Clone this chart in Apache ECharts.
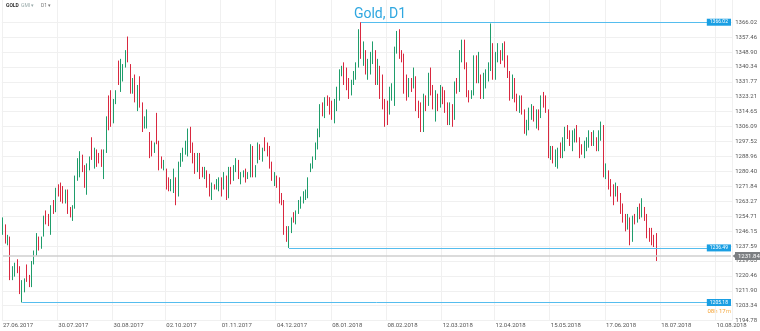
<!DOCTYPE html>
<html><head><meta charset="utf-8">
<script src="https://cdn.jsdelivr.net/npm/echarts@6/dist/echarts.min.js"></script>
<style>html,body{margin:0;padding:0;background:#fff}#c{width:760px;height:331px}</style>
</head><body><div id="c"></div>
<script>
// ---- data ----
const opens = [1246,1249,1240,1242,1221,1224,1227,1224,1212,1213,1225,1219,1216,1228,1234,1242,1238,1244,1256,1254,
1249,1260,1258,1270,1271,1268,1264,1268,1259,1256,1260,1276,1284,1289,1283,1268,1282,1292,1284,1292,
1290,1291,1285,1292,1316,1322,1310,1321,1340,1326,1334,1342,1349,1340,1327,1334,1316,1333,1318,1307,
1306,1301,1294,1293,1304,1296,1287,1283,1280,1275,1271,1268,1275,1268,1284,1288,1292,1293,1303,1295,
1290,1281,1290,1282,1277,1280,1277,1267,1272,1271,1270,1276,1271,1277,1267,1282,1276,1281,1285,1275,
1278,1280,1277,1278,1294,1279,1286,1293,1287,1298,1296,1294,1285,1274,1276,1276,1266,1263,1247,1240,
1246,1255,1252,1257,1260,1263,1265,1266,1281,1283,1289,1295,1302,1318,1313,1322,1321,1320,1310,1316,
1322,1336,1340,1338,1333,1326,1331,1334,1341,1356,1348,1349,1340,1341,1345,1348,1333,1340,1325,1318,
1316,1315,1323,1329,1350,1354,1347,1346,1330,1325,1332,1330,1332,1318,1317,1305,1323,1320,1335,1326,
1322,1324,1321,1327,1325,1317,1313,1317,1311,1330,1328,1347,1354,1341,1324,1323,1325,1345,1333,1334,
1325,1332,1336,1339,1353,1334,1346,1347,1345,1349,1345,1336,1324,1333,1322,1317,1322,1315,1305,1306,
1314,1315,1313,1314,1312,1322,1319,1315,1290,1291,1289,1291,1292,1291,1294,1304,1302,1297,1299,1300,
1299,1293,1292,1296,1297,1299,1298,1299,1294,1299,1302,1279,1280,1275,1268,1267,1270,1266,1258,1252,
1248,1253,1242,1253,1252,1257,1255,1258,1254,1245,1243,1241,1240];
const highs = [1254,1250,1244,1243,1226,1228,1230,1226,1218,1219,1227,1221,1229,1235,1245,1243,1243,1255,1258,1256,
1261,1264,1271,1273,1274,1272,1270,1270,1260,1261,1278,1288,1292,1290,1284,1285,1289,1300,1294,1293,
1291,1293,1293,1312,1324,1327,1322,1327,1344,1345,1342,1350,1357.8,1342,1334,1336,1330,1335,1320,1312,
1316,1303,1298,1297,1314,1298,1289,1287,1282,1277,1276,1282,1277,1286,1291,1294,1298,1305,1306,1297,
1291,1291,1291,1283,1283,1281,1279,1274,1273,1276,1277,1277,1280,1278,1283,1283,1284,1288,1287,1280,
1281,1282,1280,1296,1295,1284,1297,1296,1294,1300,1297,1295,1286,1280,1278,1277,1268,1264,1249,1249,
1254,1257,1258,1264,1266,1269,1270,1277,1285,1289,1297,1305,1319,1320,1323,1324,1323,1321,1322,1329,
1339,1341,1343,1340,1334,1333,1338,1343,1362,1366.02,1355,1350,1345,1349,1355,1350,1345,1341,1336,1322,
1321,1329,1331,1352,1361,1362,1350,1348,1336,1334,1334,1340,1335,1321,1320,1325,1324,1337,1340,1330,
1327,1325,1330,1329,1327,1320,1320,1319,1332,1334,1350,1356,1356,1343,1327,1327,1347,1347,1349,1336,
1337,1339,1343,1365.3,1354,1349,1354,1350,1354,1355,1347,1338,1336,1334,1325,1324,1324,1316,1310,1317,
1319,1318,1316,1316,1324,1326,1324,1316,1295,1295,1293,1294,1297,1300,1306,1307,1304,1304,1305,1307,
1300,1296,1298,1300,1304,1303,1304,1300,1304,1309,1307,1285,1281,1276,1273,1274,1272,1268,1262,1256,
1256,1254,1255,1256,1260,1262,1265,1260,1256,1248,1248,1244,1245];
const lows = [1244,1239,1238,1218,1218,1220,1222,1210,1205.18,1211,1217,1214,1214,1227,1232,1235,1236,1243,1250,1249,
1244,1256,1257,1266,1263,1262,1262,1256,1254,1252,1259,1275,1277,1280,1271,1267,1281,1287,1282,1283,
1285,1283,1276,1291,1304,1306,1308,1319,1330,1326,1332,1340,1343,1325,1325,1320,1315,1317,1303,1305,
1305,1288,1289,1291,1296,1281,1282,1281,1270,1269,1269,1268,1261,1266,1283,1286,1290,1289,1291,1285,
1279,1280,1276,1277,1276,1271,1266,1264,1270,1270,1269,1266,1270,1264,1265,1273,1275,1280,1276,1273,
1277,1274,1276,1277,1277,1277,1285,1287,1286,1292,1289,1282,1275,1272,1271,1262,1261,1244,1240,1236.49,
1245,1251,1250,1256,1259,1262,1264,1265,1280,1282,1287,1293,1300,1312,1311,1318,1313,1310,1308,1315,
1321,1335,1330,1327,1322,1324,1330,1333,1340,1345,1341,1336,1333,1336,1342,1330,1330,1322,1316,1306,
1307,1313,1321,1318,1348,1345,1343,1325,1321,1323,1326,1328,1315,1311,1303,1303,1315,1318,1324,1316,
1309,1315,1317,1319,1314,1307,1307,1306,1310,1325,1326,1343,1339,1323,1320,1322,1324,1331,1331,1322,
1322,1328,1332,1338,1333,1333,1343,1342,1344,1340,1334,1321,1322,1320,1315,1314,1313,1302,1301,1304,
1310,1309,1305,1304,1311,1317,1314,1288,1287,1285,1283,1282,1288,1288,1292,1299,1295,1292,1297,1297,
1288,1290,1288,1292,1294,1295,1295,1292,1292,1298,1277,1276,1270,1266,1261,1266,1263,1256,1251,1246,
1247,1238,1240,1250,1251,1253,1254,1252,1242,1240,1238,1237,1229];
const closes = [1249,1240,1242,1220,1224,1227,1223,1212,1214,1218,1219,1216,1228,1234,1242,1237,1241,1254,1252,1250,
1258,1258,1270,1268,1264,1264,1268,1258,1256,1260,1276,1286,1290,1282,1272,1284,1287,1288,1292,1284,
1287,1284,1292,1311,1306,1310,1320,1325,1332,1343,1340,1349,1346,1327,1332,1322,1326,1319,1304,1310,
1312,1289,1291,1296,1297,1283,1283,1286,1274,1271,1275,1277,1270,1285,1288,1292,1296,1304,1293,1287,
1281,1290,1278,1278,1282,1272,1267,1272,1271,1274,1276,1268,1277,1266,1282,1275,1282,1286,1278,1279,
1280,1276,1279,1294,1278,1282,1295,1288,1292,1294,1291,1283,1276,1279,1272,1264,1262,1246,1241,1248,
1252,1252,1257,1263,1265,1268,1268,1276,1283,1287,1295,1304,1318,1313,1322,1320,1316,1312,1321,1327,
1338,1339,1332,1329,1324,1332,1336,1341,1356,1348,1349,1340,1341,1345,1348,1333,1340,1325,1318,1316,
1315,1323,1329,1350,1354,1347,1346,1330,1325,1332,1330,1332,1318,1317,1305,1323,1320,1335,1326,1322,
1324,1321,1327,1325,1317,1313,1317,1311,1330,1328,1347,1354,1341,1324,1323,1325,1345,1333,1334,1325,
1332,1336,1339,1353,1334,1346,1347,1345,1349,1345,1336,1324,1333,1322,1317,1322,1315,1305,1306,1314,
1315,1313,1314,1312,1322,1319,1315,1290,1291,1289,1291,1292,1291,1294,1304,1302,1297,1299,1300,1299,
1293,1292,1296,1297,1299,1298,1299,1294,1299,1302,1279,1280,1275,1268,1267,1270,1266,1258,1252,1248,
1253,1242,1253,1252,1257,1255,1258,1254,1245,1243,1241,1240,1231.84];
const xTickLabels = ['27.06.2017','30.07.2017','30.08.2017','02.10.2017','01.11.2017','04.12.2017','08.01.2018',
'08.02.2018','12.03.2018','12.04.2018','15.05.2018','17.06.2018','18.07.2018','10.08.2018'];
const xTickSlots = [0,23,46,68,91,114,137,160,183,205,228,251,274,297];
const yTickValues = [1194.78,1203.34,1211.90,1220.46,1229.03,1237.59,1246.15,1254.71,1263.27,1271.84,1280.40,
1288.96,1297.52,1306.09,1314.65,1323.21,1331.77,1340.34,1348.90,1357.46,1366.02];
const levelHigh = 1366.02, levelLowA = 1236.49, levelLowB = 1205.18, lastPrice = 1231.84;
const titleText = 'Gold, D1';
const timerText = ['08','h ','17','m'];

// ---- build ----
const totalSlots = 304;
const categories = Array.from({length: totalSlots}, (_, i) => String(i));
const candles = opens.map((o, i) => [o, closes[i], lows[i], highs[i]]);
const idxHigh = highs.indexOf(levelHigh);
const idxLowA = lows.indexOf(levelLowA);
const idxLowB = lows.indexOf(levelLowB);
const lastSlot = totalSlots - 1;
const FONT = 'Roboto, "Open Sans", sans-serif';
const tickSet = new Set(xTickSlots);

function boxLabel(v) {
  return {
    show: true, position: 'insideEnd', distance: 0,
    formatter: v.toFixed(2),
    backgroundColor: '#1a9fe3', color: '#fff', fontSize: 5, fontFamily: FONT,
    padding: [1, 3, 1, 3], borderRadius: 0
  };
}
const blueLine = {color: '#55bdee', width: 1, type: 'solid'};

const chart = echarts.init(document.getElementById('c'), null, {renderer: 'canvas'});
chart.setOption({
  animation: false,
  backgroundColor: '#ffffff',
  title: {text: titleText, left: 'center', top: 2,
    textStyle: {color: '#2fa7e0', fontSize: 14, fontWeight: 'normal', fontFamily: FONT}},
  grid: {left: 1, right: 26.4, top: 0, bottom: 10.4, containLabel: false},
  xAxis: {
    type: 'category', data: categories, boundaryGap: true,
    axisLine: {show: false}, axisTick: {show: false},
    axisLabel: {
      interval: (i) => tickSet.has(i),
      formatter: (v) => xTickLabels[xTickSlots.indexOf(Number(v))] || '',
      color: '#555', fontSize: 6, fontFamily: FONT, align: 'left', margin: 2, hideOverlap: false
    },
    splitLine: {show: true, interval: (i) => tickSet.has(i), lineStyle: {color: '#f0f0f0', width: 1}}
  },
  yAxis: {
    type: 'value', position: 'right', scale: true,
    min: 1194.78, max: 1378.77,
    axisLine: {show: false},
    axisTick: {show: false, customValues: yTickValues},
    axisLabel: {customValues: yTickValues, formatter: v => Number(v).toFixed(2),
      color: '#555', fontSize: 6, fontFamily: FONT, margin: 3,
      showMinLabel: true, showMaxLabel: true},
    splitLine: {show: true, lineStyle: {color: '#f0f0f0', width: 1}}
  },
  series: [{
    type: 'candlestick',
    data: candles,
    barWidth: 1.2,
    itemStyle: {color: '#1f9d6b', color0: '#d9283f', borderColor: '#1f9d6b', borderColor0: '#d9283f', borderWidth: 1},
    markLine: {
      silent: true, symbol: ['none', 'none'], animation: false,
      data: [
        [{coord: [String(idxHigh), levelHigh], lineStyle: blueLine, label: boxLabel(levelHigh)}, {coord: [String(lastSlot), levelHigh]}],
        [{coord: [String(idxLowA), levelLowA], lineStyle: blueLine, label: boxLabel(levelLowA)}, {coord: [String(lastSlot), levelLowA]}],
        [{coord: [String(idxLowB), levelLowB], lineStyle: blueLine, label: boxLabel(levelLowB)}, {coord: [String(lastSlot), levelLowB]}],
        [{coord: ['0', lastPrice], lineStyle: {color: '#cfcfcf', width: 1.5, type: 'solid'},
          label: {show: true, position: 'end', distance: 4, formatter: lastPrice.toFixed(2),
            backgroundColor: '#7c7f82', color: '#fff', fontSize: 6, fontFamily: FONT, padding: [1, 3, 1, 3]}},
         {coord: [String(lastSlot), lastPrice]}]
      ]
    },
    markPoint: {
      silent: true, animation: false,
      data: [{coord: [String(lastSlot), lastPrice], symbol: 'triangle', symbolSize: [7, 5], symbolRotate: 90,
        symbolOffset: [4, 0], itemStyle: {color: '#7c7f82'}, label: {show: false}}]
    }
  }],
  graphic: [
    {type: 'text', left: 6, top: 3, style: {text: 'GOLD', font: 'bold 5px ' + FONT, fill: '#333'}},
    {type: 'text', left: 21, top: 3, style: {text: 'GMI ▾', font: '5px ' + FONT, fill: '#9aa'}},
    {type: 'text', left: 41, top: 3, style: {text: 'D1 ▾', font: '5px ' + FONT, fill: '#777'}},
    {type: 'text', right: 29, top: 308, style: {
      text: '{a|' + timerText[0] + '}{b|' + timerText[1] + '}{a|' + timerText[2] + '}{b|' + timerText[3] + '}',
      rich: {a: {fill: '#f5a030', font: '6px ' + FONT}, b: {fill: '#f5b860', font: '6px ' + FONT}}}}
  ]
});
</script></body></html>
